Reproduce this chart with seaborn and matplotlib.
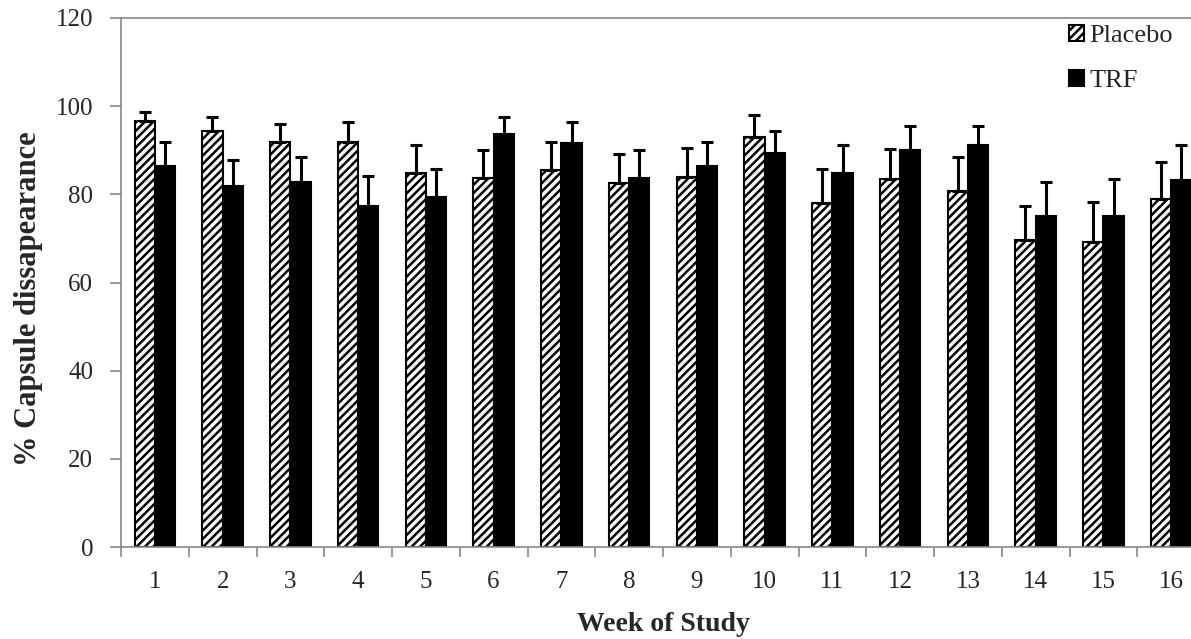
import numpy as np
import pandas as pd
import matplotlib
matplotlib.use("Agg")
import matplotlib.pyplot as plt
import seaborn as sns

weeks = [str(i) for i in range(1, 17)]
placebo = [96.7, 94.4, 91.8, 91.8, 84.8, 83.6, 85.5, 82.5, 83.9, 93.0, 78.1, 83.4, 80.8, 69.6, 69.1, 79.0]
placebo_err = [2.0, 3.2, 4.1, 4.6, 6.4, 6.4, 6.3, 6.7, 6.7, 4.9, 7.6, 6.9, 7.7, 7.8, 9.2, 8.4]
trf = [86.4, 82.0, 82.9, 77.4, 79.4, 93.7, 91.7, 83.8, 86.4, 89.3, 84.9, 90.1, 91.3, 75.0, 75.0, 83.3]
trf_err = [5.4, 5.7, 5.6, 6.8, 6.3, 3.9, 4.7, 6.2, 5.4, 5.1, 6.3, 5.5, 4.3, 7.8, 8.4, 7.9]
groups = ["Placebo", "TRF"]
y_ticks = [0, 20, 40, 60, 80, 100, 120]

df = pd.DataFrame({
    "week": weeks * 2,
    "value": placebo + trf,
    "group": [groups[0]] * len(weeks) + [groups[1]] * len(weeks),
})

sns.set_style("white")
plt.rcParams["font.family"] = ["Liberation Serif", "DejaVu Serif"]
plt.rcParams["hatch.linewidth"] = 1.8

fig = plt.figure(figsize=(11.91, 6.39), dpi=100)
ax = fig.add_axes([121 / 1191, 92 / 639, 16 * 67.75 / 1191, 529 / 639])

sns.barplot(data=df, x="week", y="value", hue="group", order=weeks, hue_order=groups,
            palette={"Placebo": "white", "TRF": "black"}, width=0.6, gap=0,
            edgecolor="black", linewidth=1.5, errorbar=None, legend=False, ax=ax)

for patch in ax.containers[0]:
    patch.set_hatch("////")

errs = [placebo_err, trf_err]
for cont, err in zip(ax.containers, errs):
    xs = [p.get_x() + p.get_width() / 2 for p in cont]
    hs = [p.get_height() for p in cont]
    ax.errorbar(xs, hs, yerr=[np.zeros(len(err)), err], fmt="none", ecolor="black",
                elinewidth=2.2, capsize=4.3, capthick=2.2, zorder=1)

ax.set_ylim(0, 120)
ax.set_xlim(-0.5, 15.5)
ax.set_yticks(y_ticks)
ax.set_yticklabels([str(v) for v in y_ticks], fontsize=18)
ax.set_xticks(np.arange(-0.5, 16, 1))
ax.set_xticklabels([])
ax.set_xticks(np.arange(16), minor=True)
ax.set_xticklabels(weeks, minor=True, fontsize=18)
ax.tick_params(axis="x", which="minor", length=0, pad=17)
ax.tick_params(axis="x", which="major", direction="out", length=7, width=1.2, color="#888888", bottom=True)
ax.tick_params(axis="y", direction="out", length=8, width=1.2, color="#888888", left=True, pad=12)

for s in ["left", "bottom", "top"]:
    ax.spines[s].set_color("#888888")
    ax.spines[s].set_linewidth(1.2)
ax.spines["right"].set_visible(False)

ax.set_xlabel("Week of Study", fontsize=20, fontweight="bold", labelpad=14)
ax.set_ylabel("% Capsule dissapearance", fontsize=22, fontweight="bold")
ax.yaxis.set_label_coords(-0.072, 0.47)

leg = ax.legend(handles=[ax.containers[0], ax.containers[1]], labels=groups,
                loc="upper left", bbox_to_anchor=(1058 / 1191, 1 - 14 / 639),
                bbox_transform=fig.transFigure, frameon=False, fontsize=19,
                handlelength=0.6, handleheight=0.6, handletextpad=0.2,
                labelspacing=0.85, borderaxespad=0)

fig.savefig("out.png", dpi=100)
